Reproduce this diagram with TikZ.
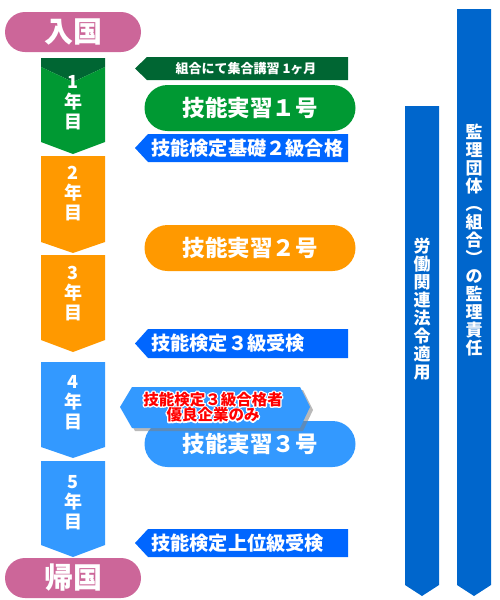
\documentclass[tikz,border=0pt]{standalone}
\usepackage{fontspec}
\setmainfont{Noto Sans CJK JP}
\usetikzlibrary{shadows}
\definecolor{entry}{HTML}{CC6699}
\definecolor{first}{HTML}{009933}
\definecolor{firstdark}{HTML}{006633}
\definecolor{second}{HTML}{FF9900}
\definecolor{third}{HTML}{3399FF}
\definecolor{exam}{HTML}{0066FF}
\definecolor{duty}{HTML}{0066CC}
\newcommand{\halotext}[1]{\leavevmode\rlap{\special{pdf:literal direct 1 Tr 2.6 w 1 1 1 RG 1 j}#1\special{pdf:literal direct 0 Tr}}#1}

\begin{document}
\begin{tikzpicture}[x=1pt, y=-1pt]
            \tikzset{gate/.style={fill=entry, rounded corners=20pt, minimum width=136pt, minimum height=40pt, inner sep=0pt, text=white, font=\fontsize{29}{29}\selectfont\bfseries}}
            \tikzset{pill/.style={rounded corners=23pt, minimum width=211pt, minimum height=46pt, inner sep=0pt, text=white, font=\fontsize{22.5}{22.5}\selectfont\bfseries}}
            \tikzset{yeartext/.style={text=white, align=center, inner sep=0pt, font=\fontsize{18}{20}\selectfont\bfseries}}
            \tikzset{examtext/.style={anchor=west, text=white, inner sep=0pt, font=\fontsize{19.2}{20}\selectfont\bfseries}}
            \tikzset{dutytext/.style={text=white, align=center, inner sep=0pt, font=\fontsize{17}{18}\selectfont\bfseries}}
            \useasboundingbox (0,0) rectangle (500,600);
            \node[gate] (entry) at (73,32) {入国};
            \fill[firstdark] (41,58) -- (105,58) -- (105,67) -- (73,82) -- (41,67) -- cycle;
            \fill[first] (41,67) -- (73,82) -- (105,67) -- (105,142) -- (73,154) -- (41,142) -- cycle;
            \node[yeartext] (year1) at (73,103) {1\\年\\目};
            \fill[second] (41,156) -- (105,156) -- (105,242) -- (73,253) -- (41,242) -- cycle;
            \node[yeartext] (year2) at (73,194) {2\\年\\目};
            \fill[second] (41,255) -- (105,255) -- (105,340) -- (73,352) -- (41,340) -- cycle;
            \node[yeartext] (year3) at (73,294) {3\\年\\目};
            \fill[third] (41,362) -- (105,362) -- (105,447) -- (73,458) -- (41,447) -- cycle;
            \node[yeartext] (year4) at (73,403) {4\\年\\目};
            \fill[third] (41,461) -- (105,461) -- (105,545) -- (73,557) -- (41,545) -- cycle;
            \node[yeartext] (year5) at (73,503) {5\\年\\目};
            \node[gate] (return) at (73,578) {帰国};
            \fill[firstdark] (135,68.5) -- (147,57) -- (348,57) -- (348,80) -- (147,80) -- cycle;
            \node[text=white, inner sep=0pt, font=\fontsize{13}{13}\selectfont\bfseries] (course) at (246,68.5) {組合にて集合講習 1ヶ月};
            \node[pill, fill=first] (intern1) at (250,108) {技能実習１号};
            \fill[exam] (135,148) -- (148,134) -- (348,134) -- (348,162) -- (148,162) -- cycle;
            \node[examtext] (basic) at (151,148) {技能検定基礎２級合格};
            \node[pill, fill=second] (intern2) at (250,248) {技能実習２号};
            \fill[exam] (135,343.5) -- (148,329) -- (348,329) -- (348,358) -- (148,358) -- cycle;
            \node[examtext] (grade3) at (151,343.5) {技能検定３級受検};
            \node[pill, fill=third] (intern3) at (250,444) {技能実習３号};
            \fill[third, drop shadow={opacity=0.55, shadow xshift=3pt, shadow yshift=-3pt}] (120,407) -- (132,387) -- (300,387) -- (310,407) -- (300,428) -- (132,428) -- cycle;
            \node[text=red, align=center, inner sep=0pt, font=\fontsize{15.5}{15.5}\selectfont\bfseries] (elite) at (213,407) {\halotext{技能検定３級合格者}\\\halotext{優良企業のみ}};
            \fill[exam] (135,543) -- (148,529) -- (348,529) -- (348,557) -- (148,557) -- cycle;
            \node[examtext] (upper) at (151,543) {技能検定上位級受検};
            \fill[duty] (405,106) -- (439,106) -- (439,585) -- (422,596) -- (405,585) -- cycle;
            \node[dutytext] (labour) at (422,309) {労\\働\\関\\連\\法\\令\\適\\用};
            \fill[duty] (457,9) -- (491,9) -- (491,585) -- (474,596) -- (457,585) -- cycle;
            \node[dutytext] (supervise) at (474,240) {監\\理\\団\\体\\︵\\組\\合\\︶\\の\\監\\理\\責\\任};
\end{tikzpicture}
\end{document}
